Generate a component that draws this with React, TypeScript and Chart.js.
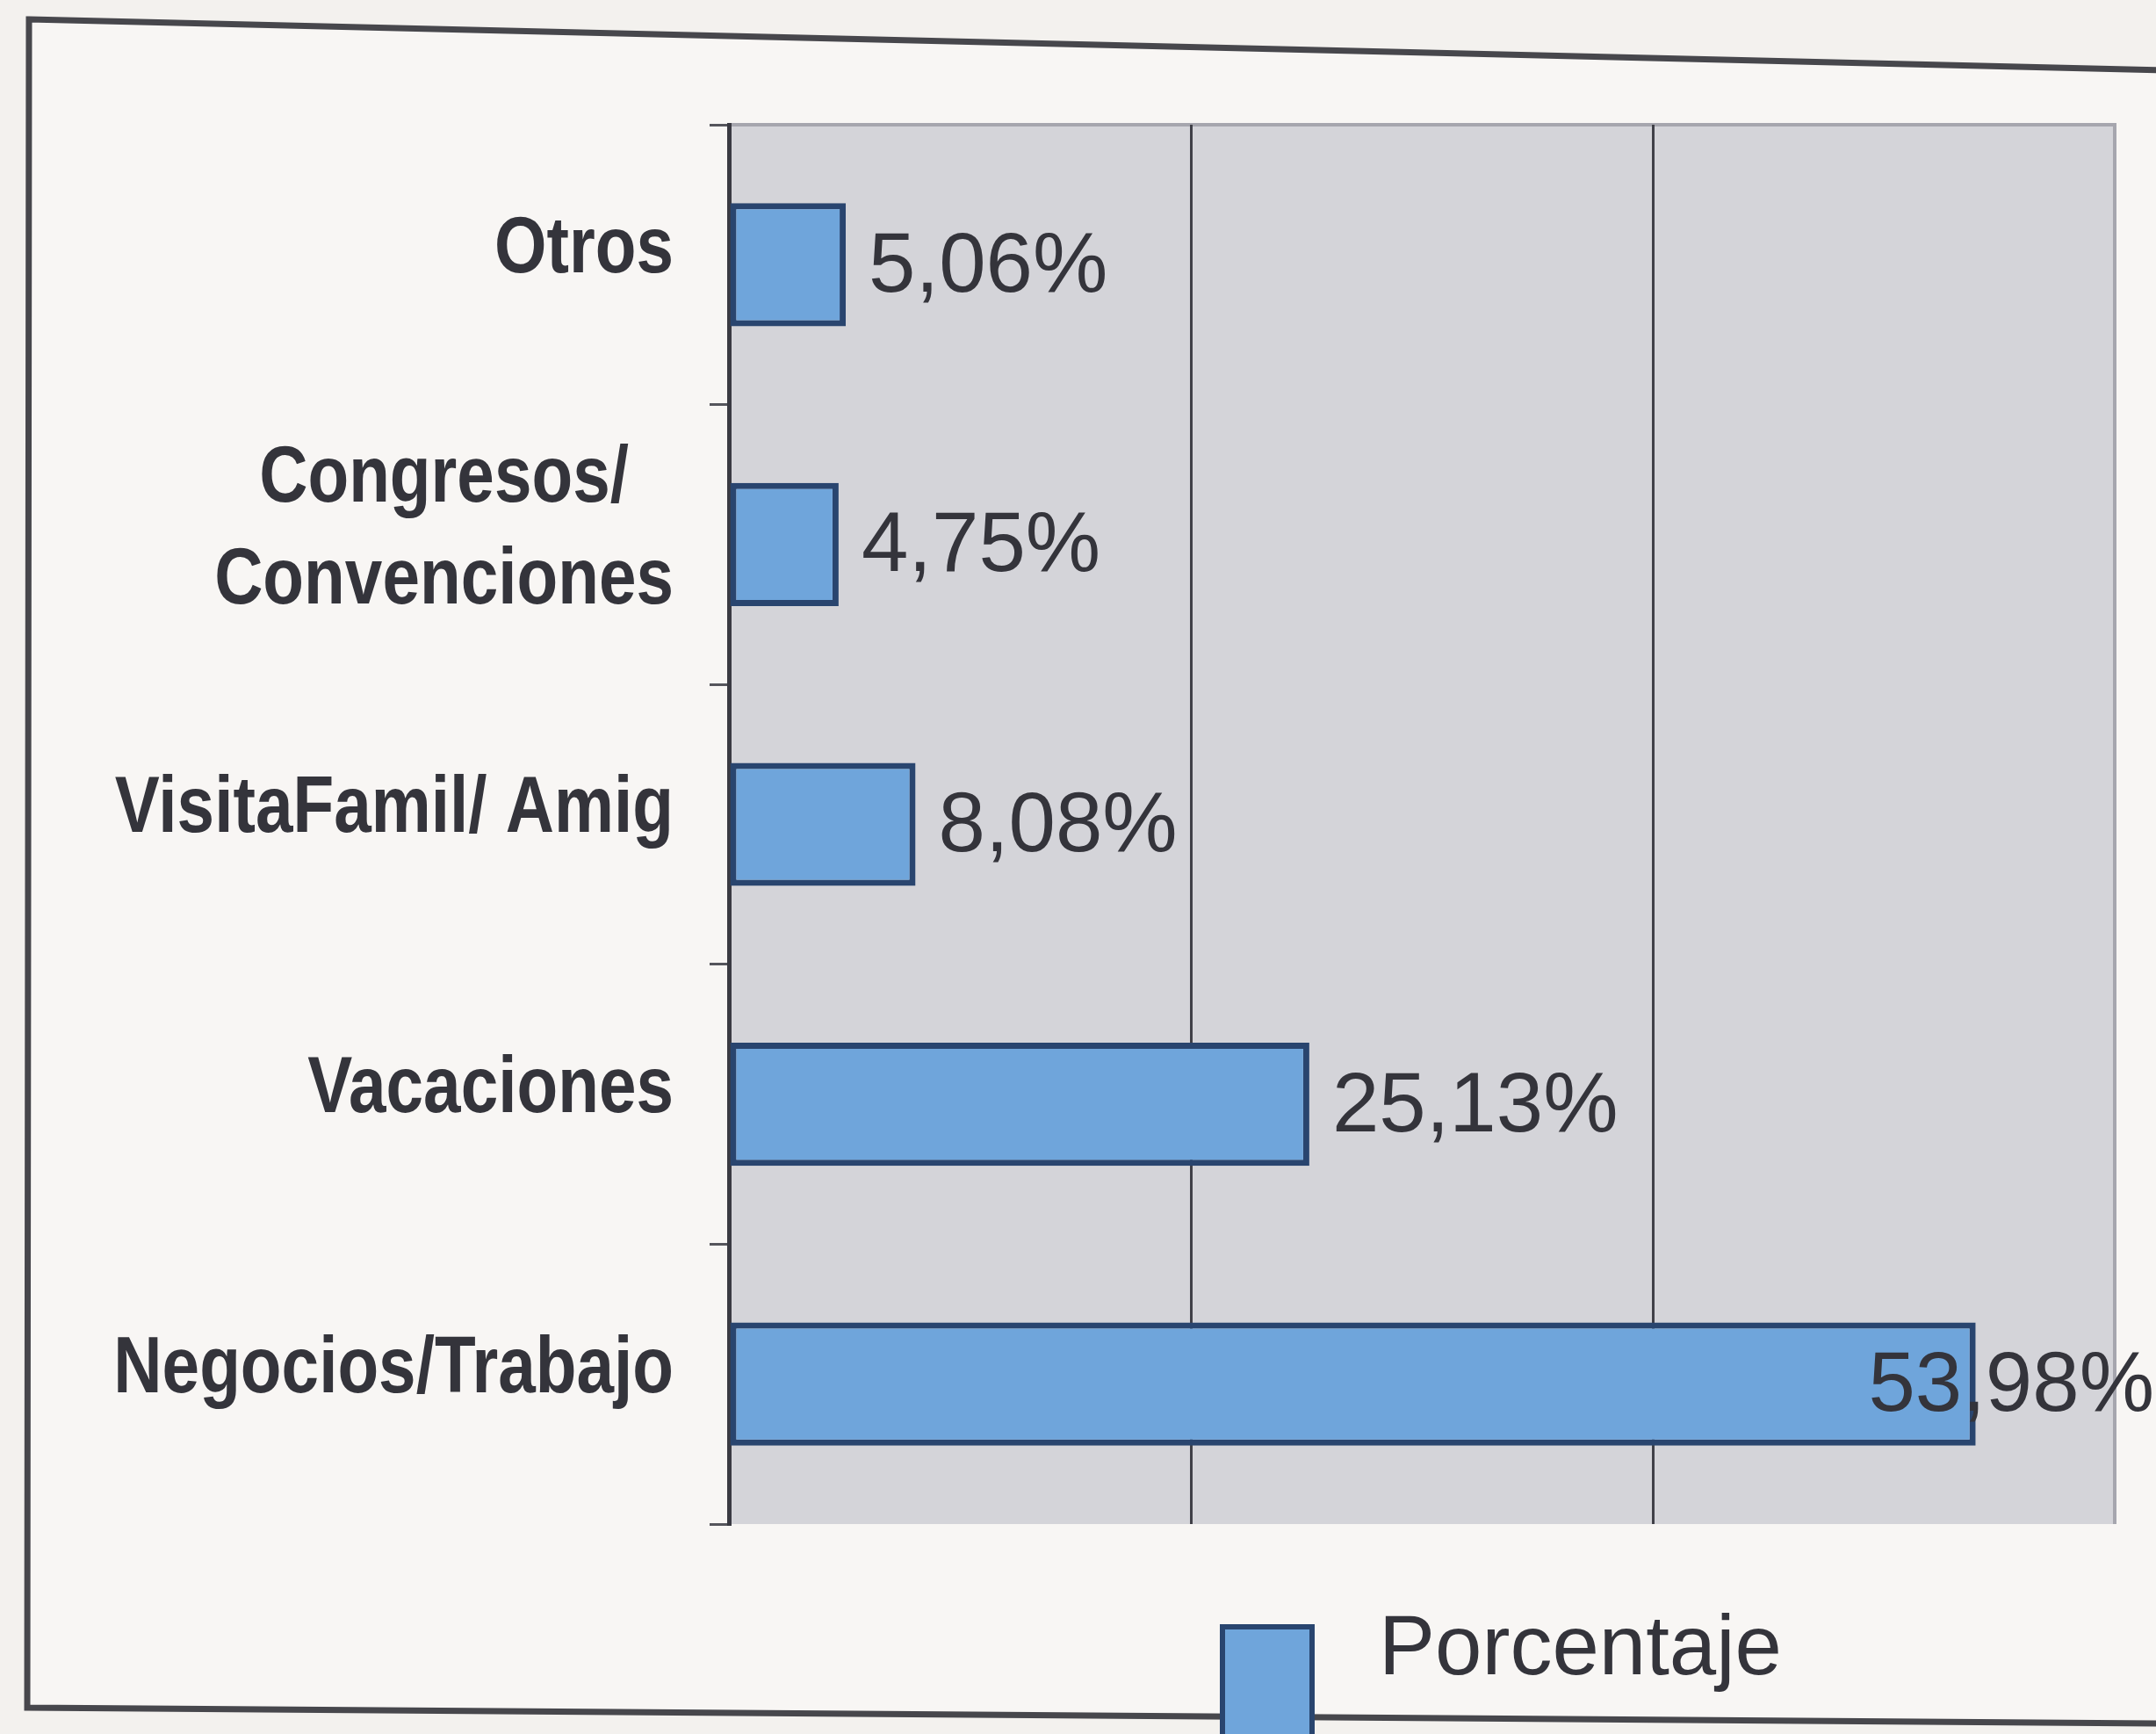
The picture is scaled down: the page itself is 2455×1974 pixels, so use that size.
import React, { useEffect, useRef } from 'react';
import { Chart, registerables } from 'chart.js';

Chart.register(...registerables);

const categories: (string | string[])[] = [
  'Otros',
  ['Congresos/', 'Convenciones'],
  'VisitaFamil/ Amig',
  'Vacaciones',
  'Negocios/Trabajo',
];
const values = [5.06, 4.75, 8.08, 25.13, 53.98];
const seriesName = 'Porcentaje';
const xMin = 0;
const xMax = 60;
const xStep = 20;

const W = 2455;
const H = 1974;
const FILL = '#6fa5db';
const EDGE = '#29456f';
const TEXT = '#34343b';

const framePlugin = {
  id: 'framePlugin',
  beforeDraw(chart: any) {
    const { ctx, chartArea: a } = chart;
    ctx.save();
    ctx.fillStyle = '#f3f1ee';
    ctx.fillRect(0, 0, chart.width, chart.height);
    ctx.fillStyle = '#f8f6f4';
    ctx.beginPath();
    ctx.moveTo(33, 22);
    ctx.lineTo(chart.width + 10, 80);
    ctx.lineTo(chart.width + 10, 1962);
    ctx.lineTo(31, 1944);
    ctx.closePath();
    ctx.fill();
    ctx.strokeStyle = '#47474c';
    ctx.lineWidth = 7;
    ctx.stroke();
    ctx.fillStyle = '#d4d4d9';
    ctx.fillRect(a.left, a.top, a.right - a.left, a.bottom - a.top);
    ctx.strokeStyle = '#a6a6ae';
    ctx.lineWidth = 4;
    ctx.beginPath();
    ctx.moveTo(a.left, a.top);
    ctx.lineTo(a.right, a.top);
    ctx.lineTo(a.right, a.bottom);
    ctx.stroke();
    ctx.restore();
  },
};

// Category labels drawn condensed (the original uses a narrow bold face)
const SQUEEZE = 0.85;
const categoryLabelPlugin = {
  id: 'categoryLabelPlugin',
  afterDraw(chart: any) {
    const { ctx } = chart;
    const yScale = chart.scales.y;
    const right = yScale.right - 63;
    const lineH = 116;
    ctx.save();
    ctx.font = 'bold 90px "Liberation Sans", Arial, sans-serif';
    ctx.fillStyle = TEXT;
    ctx.textAlign = 'center';
    ctx.textBaseline = 'middle';
    (chart.data.labels as (string | string[])[]).forEach((lab, i) => {
      const lines = Array.isArray(lab) ? lab : [lab];
      const maxW = Math.max(...lines.map((ln) => ctx.measureText(ln).width)) * SQUEEZE;
      const cx = right - maxW / 2;
      const cy = yScale.getPixelForTick(i) - 16;
      lines.forEach((ln, j) => {
        const y = cy + (j - (lines.length - 1) / 2) * lineH;
        ctx.save();
        ctx.translate(cx, y);
        ctx.scale(SQUEEZE, 1);
        ctx.fillText(ln, 0, 0);
        ctx.restore();
      });
    });
    ctx.restore();
  },
};

const valueLabelPlugin = {
  id: 'valueLabelPlugin',
  afterDatasetsDraw(chart: any) {
    const { ctx } = chart;
    const meta = chart.getDatasetMeta(0);
    ctx.save();
    ctx.font = '96px "Liberation Sans", Arial, sans-serif';
    ctx.fillStyle = TEXT;
    ctx.textBaseline = 'middle';
    ctx.textAlign = 'left';
    meta.data.forEach((el: any, i: number) => {
      const txt = values[i].toFixed(2).replace('.', ',') + '%';
      const w = ctx.measureText(txt).width;
      let x = el.x + 26;
      if (x + w > chart.width - 2) x = chart.width - 2 - w;
      ctx.fillText(txt, x, el.y + 4);
    });
    ctx.restore();
  },
};

const legendPlugin = {
  id: 'legendPlugin',
  afterDraw(chart: any) {
    const { ctx } = chart;
    ctx.save();
    ctx.fillStyle = FILL;
    ctx.fillRect(1392, 1852, 102, 140);
    ctx.strokeStyle = EDGE;
    ctx.lineWidth = 6;
    ctx.strokeRect(1392, 1852, 102, 140);
    ctx.font = '96px "Liberation Sans", Arial, sans-serif';
    ctx.fillStyle = TEXT;
    ctx.textBaseline = 'middle';
    ctx.textAlign = 'left';
    ctx.fillText(chart.data.datasets[0].label, 1570, 1880);
    ctx.restore();
  },
};

export default function App() {
  const ref = useRef<HTMLCanvasElement | null>(null);

  useEffect(() => {
    document.body.style.margin = '0';
    if (!ref.current) return;
    const chart = new Chart(ref.current, {
      type: 'bar',
      data: {
        labels: categories,
        datasets: [
          {
            label: seriesName,
            data: values,
            backgroundColor: FILL,
            borderColor: EDGE,
            borderWidth: 7,
            borderSkipped: false,
            barPercentage: 0.44,
            categoryPercentage: 1,
          },
        ],
      },
      options: {
        indexAxis: 'y',
        responsive: false,
        animation: false,
        devicePixelRatio: 1,
        layout: { padding: { top: 142, right: 47, bottom: 239, left: 0 } },
        plugins: {
          legend: { display: false },
          tooltip: { enabled: false },
        },
        scales: {
          x: {
            min: xMin,
            max: xMax,
            ticks: { display: false, stepSize: xStep },
            grid: {
              color: (c: any) =>
                c.tick && (c.tick.value === xMin || c.tick.value === xMax) ? 'rgba(0,0,0,0)' : '#404048',
              lineWidth: 3,
              drawTicks: false,
            },
            border: { display: false },
            afterFit: (s: any) => {
              s.height = 0;
            },
          },
          y: {
            type: 'category',
            afterFit: (s: any) => {
              s.width = 830;
            },
            grid: {
              offset: true,
              drawOnChartArea: false,
              drawTicks: true,
              tickLength: 22,
              color: '#55555c',
              lineWidth: 3,
            },
            border: { display: true, color: '#3a3a42', width: 5 },
            ticks: { display: false, autoSkip: false },
          },
        },
      },
      plugins: [framePlugin, valueLabelPlugin, categoryLabelPlugin, legendPlugin],
    } as any);
    return () => chart.destroy();
  }, []);

  return <canvas ref={ref} width={W} height={H} style={{ display: 'block' }} />;
}
